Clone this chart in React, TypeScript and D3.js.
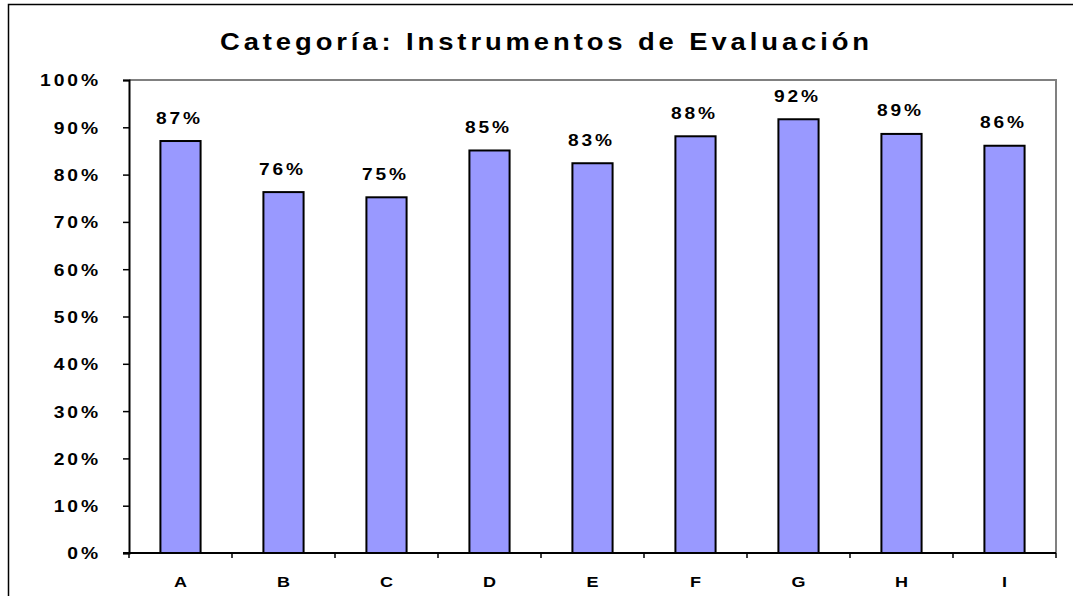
import React, { useEffect, useRef } from 'react';
import * as d3 from 'd3';

const categories = ['A', 'B', 'C', 'D', 'E', 'F', 'G', 'H', 'I'];
const values = [0.871, 0.763, 0.752, 0.851, 0.824, 0.881, 0.917, 0.886, 0.861];
const valueLabels = ['87%', '76%', '75%', '85%', '83%', '88%', '92%', '89%', '86%'];
const yTicks = [0, 0.1, 0.2, 0.3, 0.4, 0.5, 0.6, 0.7, 0.8, 0.9, 1.0];
const title = 'Categoría: Instrumentos de Evaluación';

const App: React.FC = () => {
  const svgRef = useRef<SVGSVGElement>(null);

  useEffect(() => {
    if (!svgRef.current) return;
    const width = 1073;
    const height = 596;
    const left = 129, right = 1056, top = 80, bottom = 553;
    const font = "'Liberation Sans', Arial, sans-serif";
    // the original text is wide and letter-spaced: space it a bit, then stretch to measured widths
    const textLen = (s: string) => s.length * 13.6 + 6.5;

    const svg = d3.select(svgRef.current);
    svg.selectAll('*').remove();

    svg.append('rect')
      .attr('width', width).attr('height', height).attr('fill', '#fff');

    // outer chart border
    svg.append('rect')
      .attr('x', 8.5).attr('y', 4.5)
      .attr('width', width + 10).attr('height', height + 10)
      .attr('fill', 'none').attr('stroke', '#000').attr('stroke-width', 1.5);

    const x = d3.scaleBand<string>()
      .domain(categories)
      .range([left, right])
      .paddingInner(0.61)
      .paddingOuter(0.305);

    const y = d3.scaleLinear().domain([0, 1]).range([bottom, top]);

    // plot area top/right border
    svg.append('path')
      .attr('d', `M${left},${top}H${right}V${bottom}`)
      .attr('fill', 'none').attr('stroke', '#808080').attr('stroke-width', 2);

    // bars
    svg.append('g').selectAll('rect')
      .data(values)
      .join('rect')
      .attr('x', (_, i) => x(categories[i])!)
      .attr('y', d => y(d))
      .attr('width', x.bandwidth())
      .attr('height', d => bottom - y(d))
      .attr('fill', '#9999ff')
      .attr('stroke', '#000')
      .attr('stroke-width', 2);

    // value labels
    svg.append('g').selectAll('text')
      .data(values)
      .join('text')
      .attr('x', (_, i) => x(categories[i])! + x.bandwidth() / 2 - 1)
      .attr('y', d => y(d) - 17.5)
      .attr('text-anchor', 'middle')
      .attr('font-family', font)
      .attr('font-weight', 'bold')
      .attr('font-size', 16.5)
      .attr('letter-spacing', 2.5)
      .attr('textLength', 47)
      .attr('lengthAdjust', 'spacingAndGlyphs')
      .attr('fill', '#000')
      .text((_, i) => valueLabels[i]);

    // y axis
    const yAxis = svg.append('g')
      .attr('transform', `translate(${left},0)`)
      .call(d3.axisLeft(y).tickValues(yTicks).tickSize(6).tickPadding(22)
        .tickFormat(d => `${Math.round(+d * 100)}%`));
    yAxis.select('.domain').attr('stroke', '#000').attr('stroke-width', 2);
    yAxis.selectAll('.tick line').attr('stroke', '#000').attr('stroke-width', 1.5);
    yAxis.selectAll<SVGTextElement, number>('.tick text')
      .attr('font-family', font).attr('font-weight', 'bold')
      .attr('font-size', 16.5).attr('fill', '#000')
      .attr('dy', '0.36em')
      .attr('letter-spacing', 2.5)
      .attr('textLength', function () { return textLen(this.textContent || ''); })
      .attr('lengthAdjust', 'spacingAndGlyphs');

    // x axis
    const xAxis = svg.append('g')
      .attr('transform', `translate(0,${bottom})`);
    xAxis.append('line')
      .attr('x1', left - 6).attr('x2', right)
      .attr('stroke', '#000').attr('stroke-width', 2);
    const step = x.step();
    xAxis.selectAll('line.tk')
      .data(d3.range(categories.length + 1))
      .join('line')
      .attr('class', 'tk')
      .attr('x1', i => left + i * step).attr('x2', i => left + i * step)
      .attr('y1', 0).attr('y2', 5)
      .attr('stroke', '#000').attr('stroke-width', 1.5);
    xAxis.selectAll('text')
      .data(categories)
      .join('text')
      .attr('transform', d => `translate(${x(d)! + x.bandwidth() / 2},34) scale(1.2,1)`)
      .attr('text-anchor', 'middle')
      .attr('font-family', font).attr('font-weight', 'bold')
      .attr('font-size', 15).attr('fill', '#000')
      .text(d => d);

    // title
    svg.append('text')
      .attr('x', 546.5).attr('y', 49.5)
      .attr('text-anchor', 'middle')
      .attr('font-family', font).attr('font-weight', 'bold')
      .attr('font-size', 24.5)
      .attr('letter-spacing', 3.5)
      .attr('textLength', 653)
      .attr('lengthAdjust', 'spacingAndGlyphs')
      .attr('fill', '#000')
      .text(title);
  }, []);

  return (
    <svg ref={svgRef} width={1073} height={596}
      style={{ position: 'absolute', left: 0, top: 0, display: 'block' }} />
  );
};

export default App;
